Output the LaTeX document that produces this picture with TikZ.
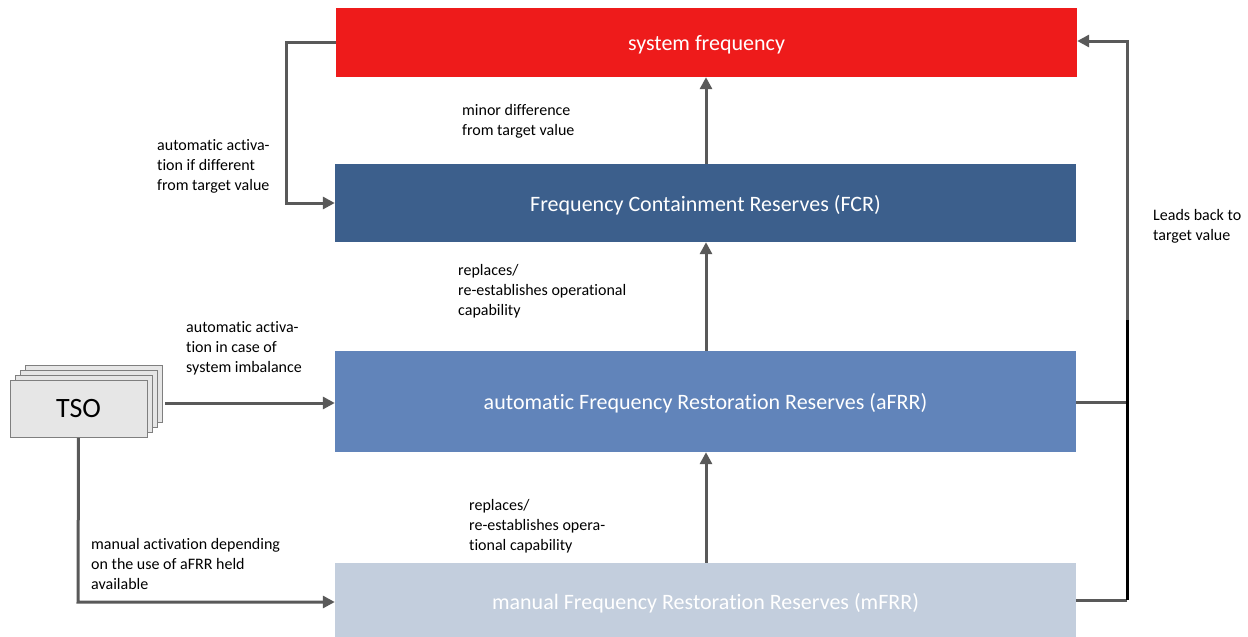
\documentclass[tikz,border=0pt]{standalone}
\usepackage{fontspec}
\setmainfont[Ligatures={NoCommon,NoRequired,NoContextual}]{Carlito}
\usetikzlibrary{arrows.meta}
\definecolor{sfred}{HTML}{EE1B1B}
\definecolor{fcrblue}{HTML}{3C5F8C}
\definecolor{afrrblue}{HTML}{6184BA}
\definecolor{mfrrblue}{HTML}{C3CEDD}
\definecolor{linegray}{HTML}{595959}
\definecolor{tsofill}{HTML}{E6E6E6}
\definecolor{tsoedge}{HTML}{7F7F7F}
\tikzset{
  bar/.style={draw=none, minimum width=741pt, inner sep=0pt, text depth=0pt, text=white, font=\fontsize{22}{26}\selectfont},
  conn/.style={draw=linegray, line width=3pt},
  arr/.style={conn, -{Triangle[length=12pt,width=12pt]}},
  lbl/.style={anchor=base west, inner sep=0pt, align=left, font=\fontsize{16}{20}\selectfont, text=black},
  tsobox/.style={draw=tsoedge, fill=tsofill, line width=0.8pt, minimum width=137pt, minimum height=57pt, inner sep=0pt}
}
\begin{document}
\begin{tikzpicture}[x=1pt,y=-1pt]
\useasboundingbox (0,0) rectangle (1248,637);
\fill[white] (0,0) rectangle (1248,637);
% bars
\node[bar, fill=sfred, minimum height=69pt] (sf) at (706.5,42.5) {system frequency};
\node[bar, fill=fcrblue, minimum height=78pt] (fcr) at (705.5,203) {Frequency Containment Reserves (FCR)};
\node[bar, fill=afrrblue, minimum height=101pt] (afrr) at (705.5,401.5) {automatic Frequency Restoration Reserves (aFRR)};
\node[bar, fill=mfrrblue, minimum height=76pt] (mfrr) at (705.5,601) {manual Frequency Restoration Reserves (mFRR)};
% TSO stack
\node[tsobox] (tso3) at (93.5,394) {};
\node[tsobox] (tso2) at (88.5,399) {};
\node[tsobox] (tso1) at (83.5,404) {};
\node[tsobox, font=\fontsize{28}{32}\selectfont] (tso) at (78.5,409) {TSO};
% coordinates
\coordinate (sfl) at (286,42);
\coordinate (fcrl) at (286,203);
\coordinate (tsoc) at (78,602);
\coordinate (rtop) at (1127,41);
\coordinate (rmid) at (1127,402);
\coordinate (rbot) at (1127,600);
\coordinate (rblk) at (1127,320);
% connectors
\draw[arr] (sf.west |- 0,42) -- (sfl) -- (fcrl) -- (fcr.west |- 0,203);
\draw[arr] (fcr.north -| 706,0) -- (sf.south -| 706,0);
\draw[arr] (afrr.north -| 706,0) -- (fcr.south -| 706,0);
\draw[arr] (mfrr.north -| 706,0) -- (afrr.south -| 706,0);
\draw[arr] (165,403) -- (afrr.west |- 0,403);
\draw[arr] (tso.south) -- (tsoc) -- (mfrr.west |- 0,602);
\draw[conn] (afrr.east |- 0,402) -- (rmid);
\draw[conn] (mfrr.east |- 0,600) -- (rbot);
\draw[draw=black, line width=3pt] (rbot) -- (rblk);
\draw[arr] (rblk) -- (rtop) -- (sf.east |- 0,41);
% labels (anchored at baseline of last line)
\node[lbl] (l1) at (157,190) {automatic activa-\\tion if different\\from target value};
\node[lbl] (l2) at (462,135) {minor difference\\from target value};
\node[lbl] (l3) at (458,315) {replaces/\\re-establishes operational\\capability};
\node[lbl] (l4) at (186,372) {automatic activa-\\tion in case of\\system imbalance};
\node[lbl] (l5) at (469,550) {replaces/\\re-establishes opera-\\tional capability};
\node[lbl] (l6) at (91,589) {manual activation depending\\on the use of aFRR held\\available};
\node[lbl] (l7) at (1153,240) {Leads back to\\target value};
\end{tikzpicture}
\end{document}
